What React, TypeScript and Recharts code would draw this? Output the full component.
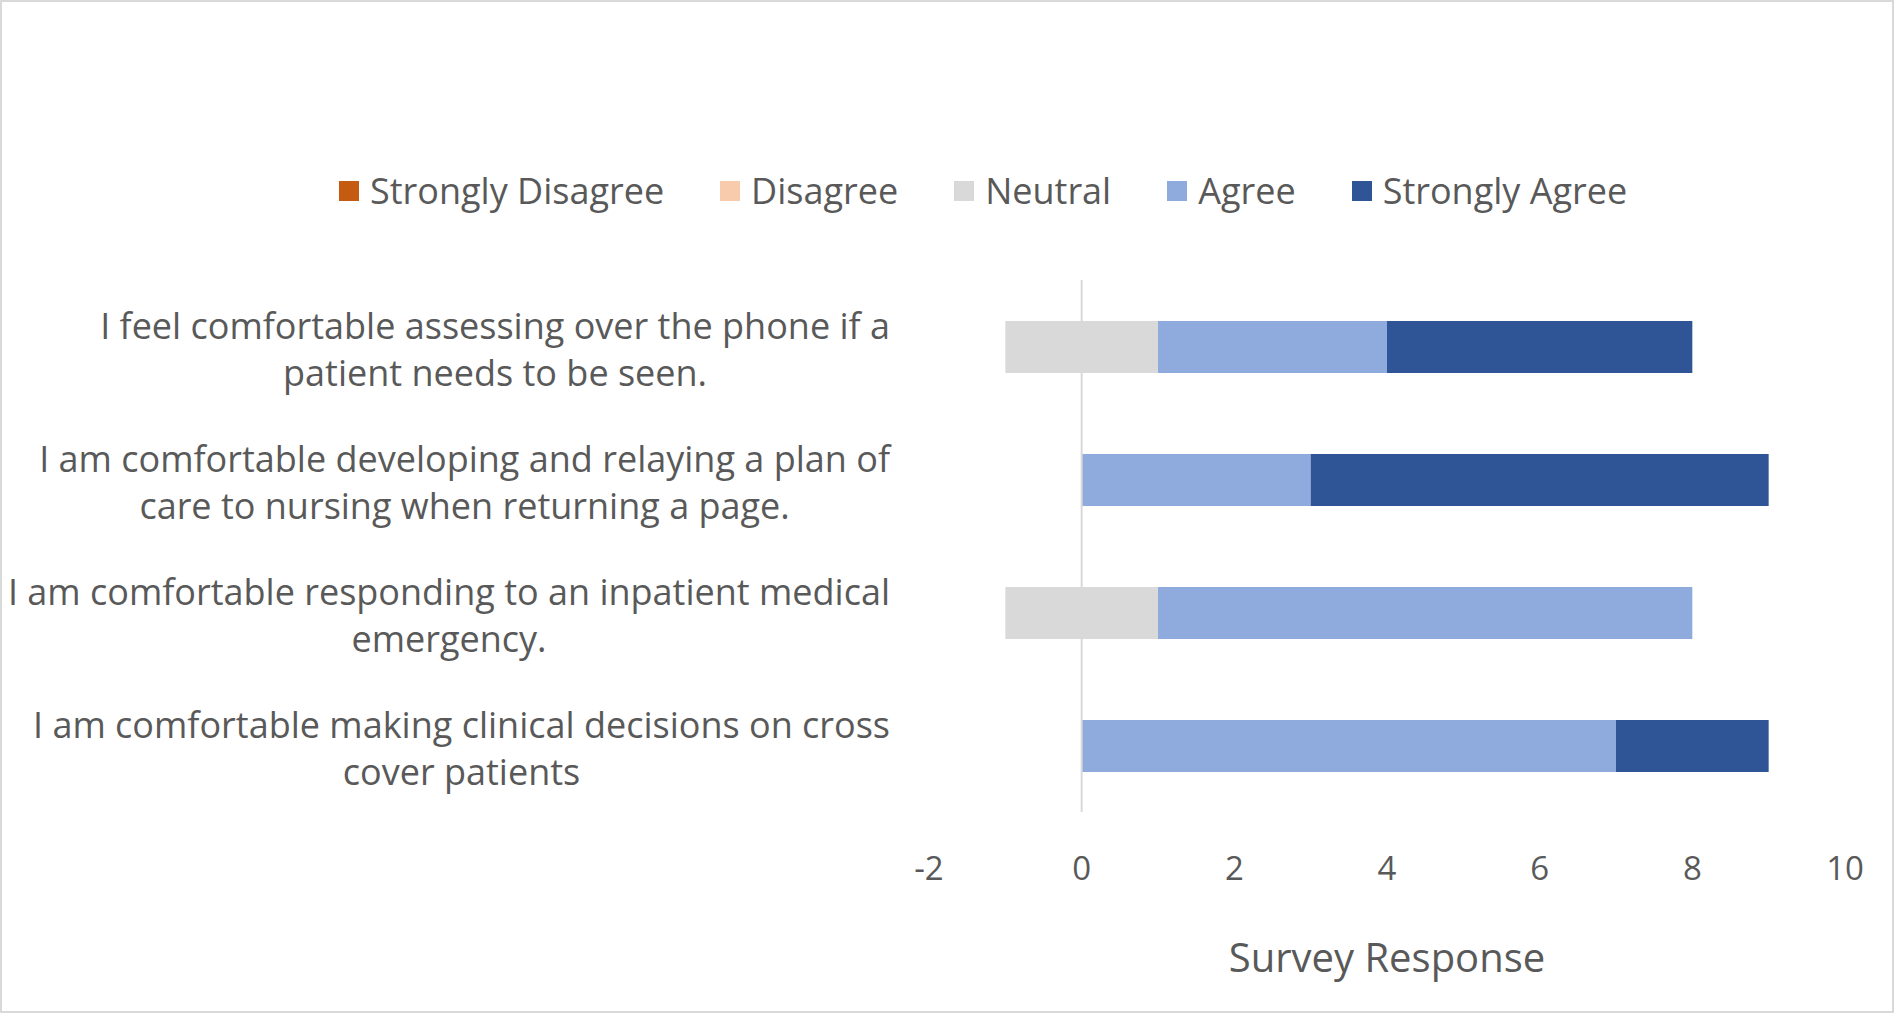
import React from "react";
import { BarChart, Bar, XAxis, YAxis, ReferenceLine, Legend } from "recharts";

const categories = [
  "I feel comfortable assessing over the phone if a\npatient needs to be seen.",
  "I am comfortable developing and relaying a plan of\ncare to nursing when returning a page.",
  "I am comfortable responding to an inpatient medical\nemergency.",
  "I am comfortable making clinical decisions on cross\ncover patients",
];
const stronglyDisagree = [0, 0, 0, 0];
const disagree = [0, 0, 0, 0];
const neutral = [2, 0, 2, 0];
const agree = [3, 3, 7, 7];
const stronglyAgree = [4, 6, 0, 2];
const xTicks = [-2, 0, 2, 4, 6, 8, 10];

const legendItems = [
  { name: "Strongly Disagree", color: "#C55A11" },
  { name: "Disagree", color: "#F8CBAD" },
  { name: "Neutral", color: "#D9D9D9" },
  { name: "Agree", color: "#8FAADC" },
  { name: "Strongly Agree", color: "#2F5597" },
];

const FONT = "'Open Sans', sans-serif";
const FS = 36;
const TICK_FS = 33;
const TITLE_FS = 40;
const TEXT = "#595959";

const data = categories.map((c, i) => ({
  category: c,
  neutralNeg: -neutral[i] / 2,
  disagree: -disagree[i],
  stronglyDisagree: -stronglyDisagree[i],
  neutralPos: neutral[i] / 2,
  agree: agree[i],
  stronglyAgree: stronglyAgree[i],
}));

let ctx: CanvasRenderingContext2D | null = null;
function measure(t: string) {
  if (!ctx) ctx = document.createElement("canvas").getContext("2d");
  if (!ctx) return t.length * FS * 0.5;
  ctx.font = `${FS}px 'Open Sans'`;
  return ctx.measureText(t).width;
}

const CategoryTick = (props: any) => {
  const { x, y, payload } = props;
  const lines = String(payload.value).split("\n");
  const maxW = Math.max(...lines.map(measure));
  const cx = x - maxW / 2;
  const lh = 47;
  return (
    <g>
      {lines.map((l, i) => (
        <text
          key={i}
          x={cx}
          y={y + 2 + (i - (lines.length - 1) / 2) * lh}
          textAnchor="middle"
          dominantBaseline="central"
          fontFamily={FONT}
          fontSize={FS}
          fill={TEXT}
        >
          {l}
        </text>
      ))}
    </g>
  );
};

const LegendContent = () => (
  <div
    style={{
      display: "flex",
      alignItems: "center",
      fontFamily: FONT,
      fontSize: FS,
      color: TEXT,
      paddingLeft: 339,
    }}
  >
    {legendItems.map((it) => (
      <div key={it.name} style={{ display: "flex", alignItems: "center", marginRight: 56 }}>
        <span style={{ width: 20, height: 20, background: it.color, display: "inline-block", marginRight: 11 }} />
        <span style={{ lineHeight: "40px" }}>{it.name}</span>
      </div>
    ))}
  </div>
);

export default function App() {
  return (
    <div style={{ position: "relative", width: 1894, height: 1013 }}>
      <style>{`body{margin:0}`}</style>
      <BarChart
        width={1894}
        height={1013}
        data={data}
        layout="vertical"
        stackOffset="sign"
        margin={{ top: 280, right: 49, bottom: 31, left: 0 }}
        barSize={52}
      >
        <XAxis
          type="number"
          domain={[-2, 10]}
          ticks={xTicks}
          axisLine={false}
          tickLine={false}
          tickMargin={39}
          height={170}
          tick={{ fontFamily: FONT, fontSize: TICK_FS, fill: TEXT }}
          label={{
            value: "Survey Response",
            position: "insideBottom",
            offset: 10,
            style: { fontFamily: FONT, fontSize: TITLE_FS, fill: TEXT },
          }}
        />
        <YAxis
          type="category"
          dataKey="category"
          width={929}
          axisLine={false}
          tickLine={false}
          tickMargin={33}
          tick={<CategoryTick />}
        />
        <ReferenceLine x={0} stroke="#D9D9D9" strokeWidth={2} />
        <Legend
          layout="vertical"
          align="center"
          verticalAlign="middle"
          content={<LegendContent />}
          wrapperStyle={{ top: 171, left: 0, width: 1894 }}
        />
        <Bar dataKey="neutralNeg" stackId="s" fill="#D9D9D9" isAnimationActive={false} legendType="none" />
        <Bar dataKey="disagree" stackId="s" fill="#F8CBAD" isAnimationActive={false} />
        <Bar dataKey="stronglyDisagree" stackId="s" fill="#C55A11" isAnimationActive={false} />
        <Bar dataKey="neutralPos" stackId="s" fill="#D9D9D9" isAnimationActive={false} />
        <Bar dataKey="agree" stackId="s" fill="#8FAADC" isAnimationActive={false} />
        <Bar dataKey="stronglyAgree" stackId="s" fill="#2F5597" isAnimationActive={false} />
      </BarChart>
      <div
        style={{
          position: "absolute",
          inset: 0,
          border: "2px solid #D9D9D9",
          pointerEvents: "none",
        }}
      />
    </div>
  );
}
